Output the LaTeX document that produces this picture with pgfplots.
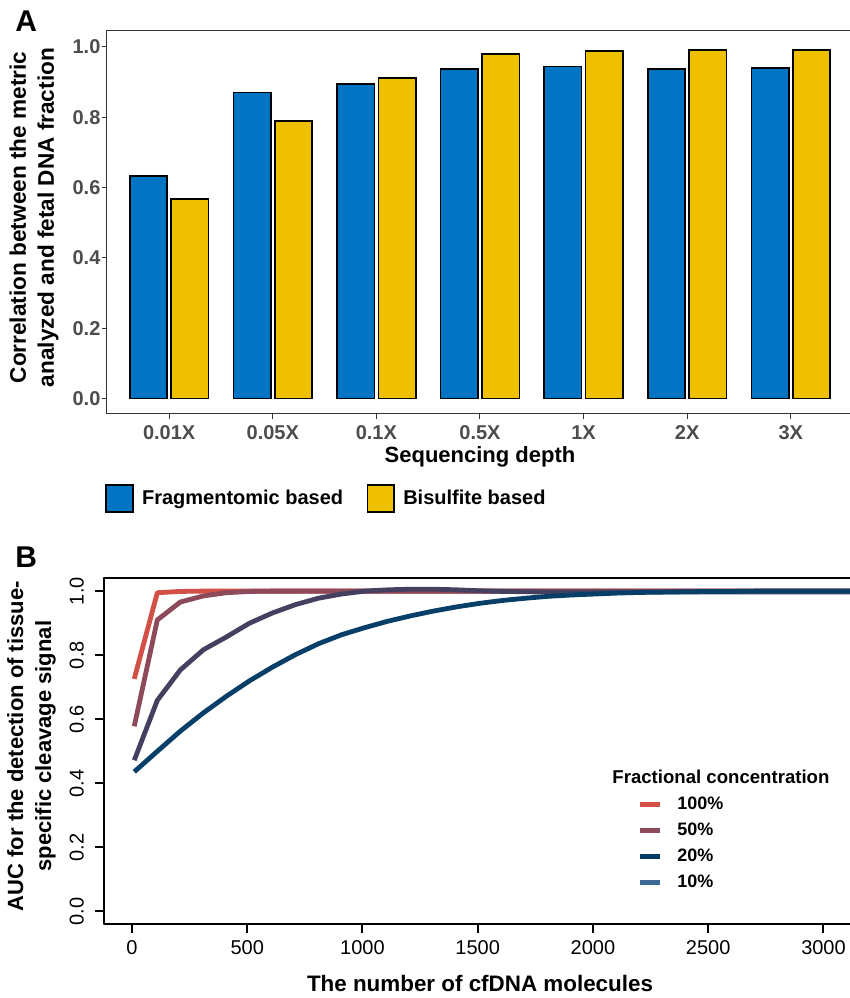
\documentclass[border=0pt]{standalone}
\usepackage{fontspec}
\setmainfont{Liberation Sans}
\usepackage{pgfplots}
\pgfplotsset{compat=1.18}
\definecolor{jcoblue}{HTML}{0073C2}
\definecolor{jcoyellow}{HTML}{EFC000}
\definecolor{tickgray}{HTML}{4D4D4D}
\definecolor{framegray}{HTML}{333333}
\definecolor{cRed}{HTML}{D25046}
\definecolor{cMauve}{HTML}{8C4A5A}
\definecolor{cGrey}{HTML}{464060}
\definecolor{cNavy}{HTML}{073F69}
\definecolor{lNavy}{HTML}{003A64}
\definecolor{lSteel}{HTML}{3A6A93}
\pgfplotsset{
  squarelegend/.style={legend image code/.code={\draw[##1] (0pt,-6.67pt) rectangle (13.33pt,6.67pt);}},
  linelegend/.style={legend image code/.code={\draw[##1, line width=2.5pt] (0pt,0pt) -- (10pt,0pt);}},
}
\begin{document}
\begin{tikzpicture}
% ---------------- Panel A ----------------
\begin{axis}[
  at={(53.5pt,292pt)}, anchor=south west,
  scale only axis, width=373pt, height=191.5pt,
  xmin=-0.6, xmax=6.6, ymin=-0.044, ymax=1.0455,
  axis line style={framegray, line width=0.5pt},
  tick style={framegray, line width=0.5pt},
  major tick length=2.5pt, tick align=outside,
  xtick pos=left, ytick pos=left,
  xtick={0,1,2,3,4,5,6},
  xticklabels={0.01X,0.05X,0.1X,0.5X,1X,2X,3X},
  ytick={0,0.2,0.4,0.6,0.8,1},
  /pgf/number format/assume math mode=true,
  yticklabel={\pgfmathprintnumber[fixed,fixed zerofill,precision=1]{\tick}},
  tick label style={font=\bfseries\fontsize{10}{12}\selectfont, text=tickgray, inner sep=0pt},
  xticklabel style={anchor=center, yshift=-6.85pt},
  yticklabel style={anchor=east, xshift=-0.6pt},
  xlabel={Sequencing depth},
  xlabel style={font=\bfseries\fontsize{11}{13}\selectfont, at={(axis description cs:0.5,-0.112)}, anchor=center},
  ylabel={Correlation between the metric\\analyzed and fetal DNA fraction},
  ylabel style={align=center, font=\bfseries\fontsize{11.3}{14}\selectfont, at={(axis description cs:-0.0979,0.513)}, anchor=center},
  legend columns=2,
  legend style={draw=none, fill=none, inner sep=0pt, at={(axis description cs:-0.0027,-0.1828)}, anchor=north west,
    font=\bfseries\fontsize{10}{12}\selectfont, nodes={inner sep=0pt},
    /tikz/every odd column/.append style={column sep=4.2pt},
    /tikz/every even column/.append style={column sep=11.7pt}},
]
\addplot[ybar, bar width=0.36, bar shift=0pt, fill=jcoblue, draw=black, line width=0.8pt, squarelegend]
  coordinates {(-0.2,0.633) (0.8,0.870) (1.8,0.894) (2.8,0.937) (3.8,0.944) (4.8,0.937) (5.8,0.940)};
\addlegendentry{Fragmentomic based}
\addplot[ybar, bar width=0.36, bar shift=0pt, fill=jcoyellow, draw=black, line width=0.8pt, squarelegend]
  coordinates {(0.2,0.567) (1.2,0.789) (2.2,0.912) (3.2,0.980) (4.2,0.988) (5.2,0.991) (6.2,0.991)};
\addlegendentry{Bisulfite based}
\end{axis}
% ---------------- Panel B ----------------
\begin{axis}[
  at={(52.15pt,36.85pt)}, anchor=south west,
  scale only axis, width=403.4pt, height=173pt,
  xmin=-120, xmax=3380, ymin=-0.04, ymax=1.04,
  axis line style={black, line width=1pt},
  tick style={black, line width=1pt},
  major tick length=4.5pt, tick align=outside,
  xtick pos=left, ytick pos=left,
  xtick={0,500,1000,1500,2000,2500,3000},
  ytick={0,0.2,0.4,0.6,0.8,1},
  /pgf/number format/assume math mode=true,
  /pgf/number format/1000 sep={},
  yticklabel={\pgfmathprintnumber[fixed,fixed zerofill,precision=1]{\tick}},
  tick label style={font=\fontsize{10}{12}\selectfont, inner sep=0pt},
  xticklabel style={anchor=center, yshift=-7.35pt},
  yticklabel style={rotate=90, anchor=center, yshift=9.3pt},
  xlabel={The number of cfDNA molecules},
  xlabel style={font=\bfseries\fontsize{11.2}{13}\selectfont, at={(axis description cs:0.4657,-0.1697)}, anchor=center},
  ylabel={AUC for the detection of tissue-\\specific cleavage signal},
  ylabel style={align=center, font=\bfseries\fontsize{11}{14}\selectfont, at={(axis description cs:-0.0902,0.515)}, anchor=center},
  linelegend,
  legend style={draw=none, fill=none, inner sep=0pt, at={(axis description cs:0.6603,0.3728)}, anchor=north west,
    font=\bfseries\fontsize{9}{11}\selectfont,
    nodes={inner sep=0pt, text height=7pt, text depth=2pt}, row sep=4pt,
    /tikz/every odd column/.append style={column sep=7.5pt}},
  legend cell align=left,
  line join=round,
]
\addlegendimage{cRed}\addlegendentry{100\%}
\addlegendimage{cMauve}\addlegendentry{50\%}
\addlegendimage{lNavy}\addlegendentry{20\%}
\addlegendimage{lSteel}\addlegendentry{10\%}
\addplot[cRed, line width=2.4pt, forget plot] coordinates {
(10,0.726) (110,0.995) (210,0.999) (310,1.0) (410,1.0) (510,1.0) (610,1.0) (710,1.0) (810,1.0) (910,1.0)
(1010,1.0) (1110,1.0) (1210,1.0) (1310,1.0) (1410,1.0) (1510,1.0) (1610,1.0) (1710,1.0) (1810,1.0) (1910,1.0)
(2010,1.0) (2110,1.0) (2210,1.0) (2310,1.0) (2410,1.0) (2510,1.0) (2610,1.0) (2710,1.0) (2810,1.0) (2910,1.0)
(3010,1.0) (3110,1.0) (3210,1.0)};
\addplot[cMauve, line width=2.4pt, forget plot] coordinates {
(10,0.578) (110,0.910) (210,0.966) (310,0.985) (410,0.995) (510,0.999) (610,1.0) (710,1.0) (810,1.0) (910,1.0)
(1010,1.0) (1110,1.0) (1210,1.0) (1310,1.0) (1410,1.0) (1510,1.0) (1610,1.0) (1710,1.0) (1810,1.0) (1910,1.0)
(2010,1.0) (2110,1.0) (2210,1.0) (2310,1.0) (2410,1.0) (2510,1.0) (2610,1.0) (2710,1.0) (2810,1.0) (2910,1.0)
(3010,1.0) (3110,1.0) (3210,1.0)};
\addplot[cGrey, line width=2.4pt, forget plot] coordinates {
(10,0.472) (110,0.659) (210,0.754) (310,0.817) (410,0.857) (510,0.900) (610,0.932) (710,0.958) (810,0.978) (910,0.991)
(1010,1.0) (1110,1.004) (1210,1.006) (1310,1.006) (1410,1.004) (1510,1.001) (1610,0.999) (1710,0.998) (1810,0.997) (1910,0.997)
(2010,0.997) (2110,0.997) (2210,0.997) (2310,0.997) (2410,0.997) (2510,0.997) (2610,0.997) (2710,0.997) (2810,0.997) (2910,0.997)
(3010,0.997) (3110,0.997) (3210,0.997)};
\addplot[cNavy, line width=2.4pt, forget plot] coordinates {
(10,0.436) (110,0.500) (210,0.563) (310,0.620) (410,0.672) (510,0.720) (610,0.763) (710,0.802) (810,0.836) (910,0.864)
(1010,0.886) (1110,0.906) (1210,0.923) (1310,0.938) (1410,0.951) (1510,0.962) (1610,0.971) (1710,0.978) (1810,0.984) (1910,0.988)
(2010,0.991) (2110,0.994) (2210,0.996) (2310,0.997) (2410,0.998) (2510,0.999) (2610,0.999) (2710,1.0) (2810,1.0) (2910,1.0)
(3010,1.0) (3110,1.0) (3210,1.0)};
\node[anchor=west, inner sep=0pt, font=\bfseries\fontsize{9.3}{11}\selectfont] at (rel axis cs:0.6293,0.4266) {Fractional concentration};
\end{axis}
% panel letters
\node[anchor=base west, inner sep=0pt, font=\bfseries\fontsize{15}{18}\selectfont] at (7.5pt,483.15pt) {A};
\node[anchor=base west, inner sep=0pt, font=\bfseries\fontsize{15}{18}\selectfont] at (7.5pt,215.35pt) {B};
\pgfresetboundingbox
\useasboundingbox (0pt,0pt) rectangle (425pt,499pt);
\end{tikzpicture}
\end{document}
